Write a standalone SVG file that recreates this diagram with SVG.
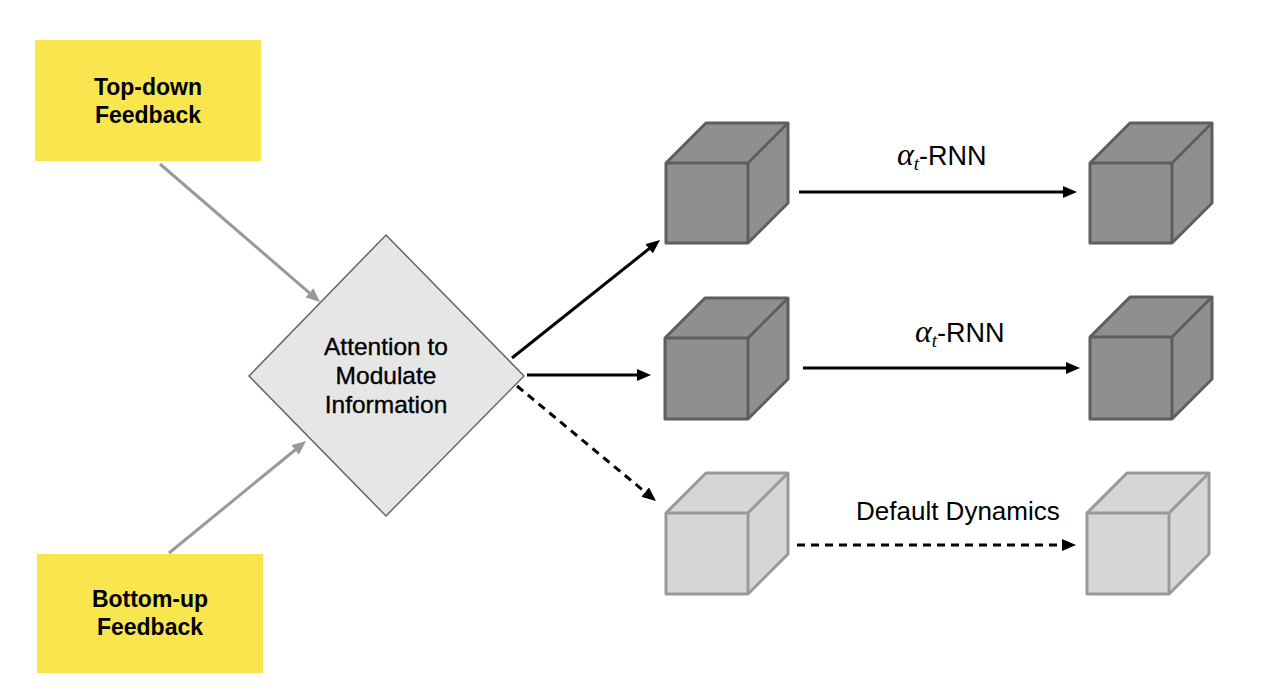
<svg xmlns="http://www.w3.org/2000/svg" width="1282" height="698" viewBox="0 0 1282 698">
<style>
  .yellow { fill: #f9e64f; stroke: none; }
  .ytext { font-family: "Liberation Sans", Arial, sans-serif; font-size: 23px; font-weight: bold; fill: #000; text-anchor: middle; }
  .dtext { font-family: "Liberation Sans", Arial, sans-serif; font-size: 24.5px; fill: #000; stroke: #000; stroke-width: 0.35; text-anchor: middle; }
  .label { font-family: "Liberation Sans", Arial, sans-serif; font-size: 26px; fill: #000; }
  .rnn { font-size: 27px; }
  .greek { font-family: "Liberation Serif", "Times New Roman", serif; font-style: italic; }
  .dark .face { fill: #8f8f8f; stroke: #5e5e5e; stroke-width: 3; stroke-linejoin: round; }
  .dark .edge { fill: none; stroke: #5e5e5e; stroke-width: 3; }
  .light .face { fill: #d6d6d6; stroke: #999999; stroke-width: 3; stroke-linejoin: round; }
  .light .edge { fill: none; stroke: #999999; stroke-width: 3; }
  .gray { stroke: #999999; stroke-width: 3; fill: none; }
  .black { stroke: #000; stroke-width: 3; fill: none; }
  .dash { stroke-dasharray: 8 6; }
</style>
<defs>
  <marker id="ahGray" viewBox="0 0 14 12" refX="3" refY="6" markerWidth="14" markerHeight="12" markerUnits="userSpaceOnUse" orient="auto">
    <path d="M0,0 L14,6 L0,12 Z" fill="#999999"/>
  </marker>
  <marker id="ahBlack" viewBox="0 0 14 12" refX="3" refY="6" markerWidth="14" markerHeight="12" markerUnits="userSpaceOnUse" orient="auto">
    <path d="M0,0 L14,6 L0,12 Z" fill="#000"/>
  </marker>
</defs>
<rect width="1282" height="698" fill="#fff"/>

<g id="connectors">
  <line class="gray" x1="160" y1="164" x2="311.7" y2="294.8" marker-end="url(#ahGray)"/>
  <line class="gray" x1="169" y1="553" x2="297.5" y2="448" marker-end="url(#ahGray)"/>
  <line class="black" x1="512" y1="358" x2="651.4" y2="246.9" marker-end="url(#ahBlack)"/>
  <line class="black" x1="527" y1="375" x2="640" y2="375" marker-end="url(#ahBlack)"/>
  <line class="black dash" x1="517" y1="386" x2="647.5" y2="494" marker-end="url(#ahBlack)"/>
  <line class="black" x1="799" y1="192" x2="1066" y2="192" marker-end="url(#ahBlack)"/>
  <line class="black" x1="803" y1="368" x2="1069" y2="368" marker-end="url(#ahBlack)"/>
  <line class="black dash" x1="797" y1="545" x2="1065" y2="545" marker-end="url(#ahBlack)"/>
</g>

<g id="topdown">
  <rect class="yellow" x="35" y="40" width="226" height="121"/>
  <text class="ytext" x="148" y="95">Top-down</text>
  <text class="ytext" x="148" y="123">Feedback</text>
</g>

<g id="bottomup">
  <rect class="yellow" x="37" y="554" width="226" height="119"/>
  <text class="ytext" x="150" y="607">Bottom-up</text>
  <text class="ytext" x="150" y="635">Feedback</text>
</g>

<g id="attention">
  <polygon points="386,235 524,376 386,516 249,376" fill="#e6e6e6" stroke="#666666" stroke-width="1.5"/>
  <text class="dtext" x="386" y="355">Attention to</text>
  <text class="dtext" x="386" y="384">Modulate</text>
  <text class="dtext" x="386" y="413">Information</text>
</g>

<g id="cube1" class="dark">
  <path class="face" d="M666,163 L706,123 L788,123 L788,203 L748,243 L666,243 Z"/>
  <path class="edge" d="M666,163 L748,163 L788,123 M748,163 L748,243"/>
</g>
<g id="cube2" class="dark">
  <path class="face" d="M1090,163 L1130,123 L1212,123 L1212,203 L1172,243 L1090,243 Z"/>
  <path class="edge" d="M1090,163 L1172,163 L1212,123 M1172,163 L1172,243"/>
</g>
<g id="cube3" class="dark">
  <path class="face" d="M665,338 L705,298 L788,298 L788,379 L748,419 L665,419 Z"/>
  <path class="edge" d="M665,338 L748,338 L788,298 M748,338 L748,419"/>
</g>
<g id="cube4" class="dark">
  <path class="face" d="M1090,337 L1130,297 L1212,297 L1212,379 L1172,419 L1090,419 Z"/>
  <path class="edge" d="M1090,337 L1172,337 L1212,297 M1172,337 L1172,419"/>
</g>
<g id="cube5" class="light">
  <path class="face" d="M666,513 L706,473 L788,473 L788,554 L748,594 L666,594 Z"/>
  <path class="edge" d="M666,513 L748,513 L788,473 M748,513 L748,594"/>
</g>
<g id="cube6" class="light">
  <path class="face" d="M1087,513 L1127,473 L1209,473 L1209,554 L1169,594 L1087,594 Z"/>
  <path class="edge" d="M1087,513 L1169,513 L1209,473 M1169,513 L1169,594"/>
</g>

<g id="labels">
  <text class="label rnn" x="897" y="165"><tspan class="greek" font-size="32">α</tspan><tspan class="greek" font-size="19" dy="5">t</tspan><tspan dy="-5">-RNN</tspan></text>
  <text class="label rnn" x="915" y="342"><tspan class="greek" font-size="32">α</tspan><tspan class="greek" font-size="19" dy="5">t</tspan><tspan dy="-5">-RNN</tspan></text>
  <text class="label" x="856" y="520">Default Dynamics</text>
</g>
</svg>
